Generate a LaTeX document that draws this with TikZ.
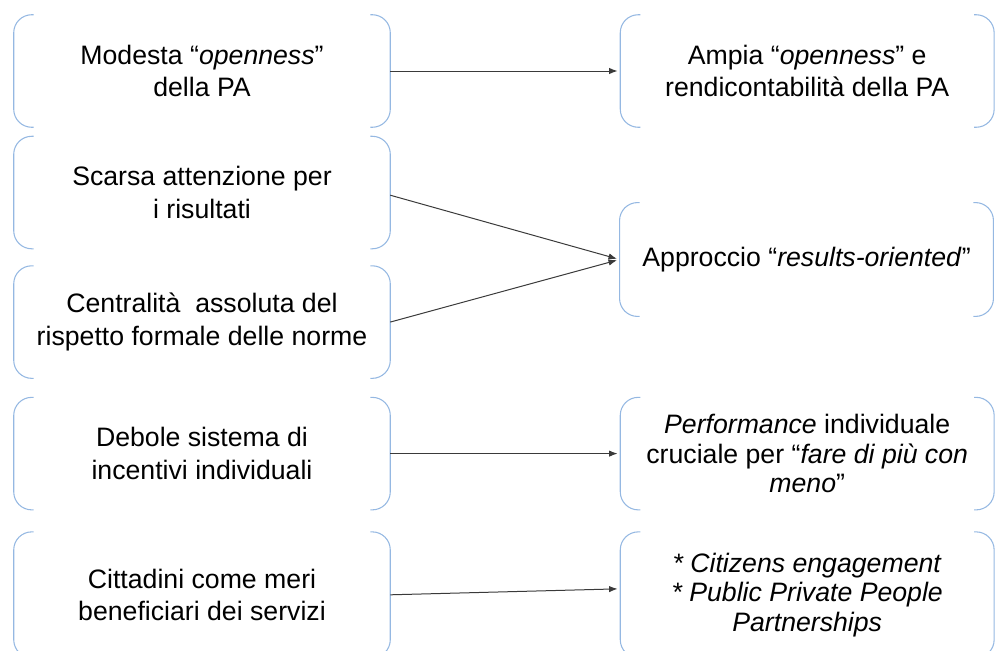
\documentclass[tikz,border=0pt]{standalone}
\usepackage{fontspec}
\setmainfont{Liberation Sans}
\usetikzlibrary{arrows.meta,positioning}
\definecolor{sky}{HTML}{95B8E2}
\definecolor{ink}{HTML}{3A3A3A}

\begin{document}
\begin{tikzpicture}[x=0.75pt,y=-0.75pt,node distance=6.75pt and 172.5pt,>=Latex]
\tikzset{box/.style={minimum width=282pt,minimum height=84pt,inner sep=0pt,align=center,font=\fontsize{20}{24.5}\selectfont},
  wide/.style={minimum width=280pt},
  brk/.style={draw=sky,line width=0.8pt,rounded corners=13.5pt},
  arr/.style={->,draw=ink,line width=0.75pt,shorten >=2pt}}
\useasboundingbox (0,0) rectangle (995,650);
\clip (0,0) rectangle (995,650);
% left column: the starting situation
\node[box] (l1) at (202,71) {Modesta “\textit{openness}”\\della PA};
\node[box,below=of l1] (l2) {Scarsa attenzione per\\i risultati};
\node[box,below=12.75pt of l2] (l3) {Centralità\ \ assoluta del\\rispetto formale delle norme};
\node[box,below=14.25pt of l3] (l4) {Debole sistema di\\incentivi individuali};
\node[box,below=16.5pt of l4,minimum height=94pt] (l5) {Cittadini come meri\\beneficiari dei servizi};
% right column: the goals
\node[box,wide,right=of l1] (r1) {Ampia “\textit{openness}” e\\rendicontabilità della PA};
\node[box,wide,minimum height=85pt] (r2) at (806.5,259.5) {Approccio “\textit{results-oriented}”};
\node[box,wide,right=of l4,font=\fontsize{20}{22}\selectfont] (r3) {\textit{Performance} individuale\\cruciale per “\textit{fare di più con}\\\textit{meno}”};
\node[box,wide,right=of l5,minimum height=94pt,font=\fontsize{20}{22}\selectfont] (r4) {\textit{* Citizens engagement}\\\textit{* Public Private People}\\\textit{Partnerships}};
% brackets round every box
\foreach \n in {l1,l2,l3,l4,l5,r1,r2,r3,r4}{
  \draw[brk] ([xshift=15pt]\n.north west) -- (\n.north west) -- (\n.south west) -- ([xshift=15pt]\n.south west);
  \draw[brk] ([xshift=-15pt]\n.north east) -- (\n.north east) -- (\n.south east) -- ([xshift=-15pt]\n.south east);
}
\draw[arr] (l1.east) -- (r1.west);
\draw[arr] ([yshift=-2pt]l2.east) -- (r2.west);
\draw[arr] (l3.east) -- (r2.west);
\draw[arr] (l4.east) -- (r3.west);
\draw[arr] (l5.east) -- ([yshift=4.5pt]r4.west);
\end{tikzpicture}
\end{document}
